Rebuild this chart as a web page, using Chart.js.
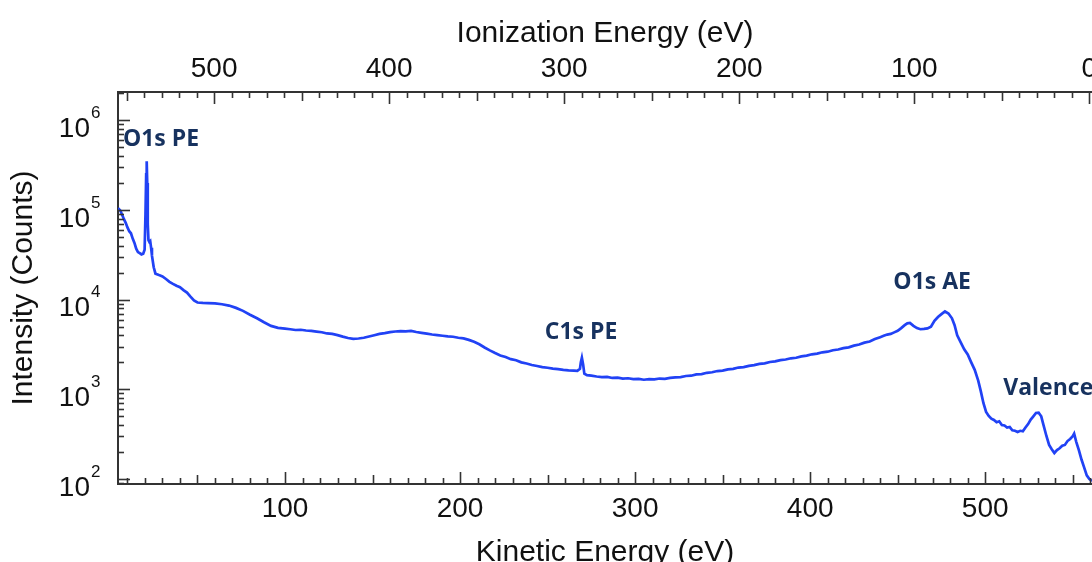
<!DOCTYPE html>
<html>
<head>
<meta charset="utf-8">
<script src="https://cdn.jsdelivr.net/npm/chart.js@4.4.1/dist/chart.umd.min.js"></script>
<style>
  html, body { margin: 0; padding: 0; background: #fff; }
  #wrap { width: 1092px; height: 562px; }
</style>
</head>
<body>
<div id="wrap"><canvas id="chart" width="1092" height="562"></canvas></div>
<script>
// photon energy: ionization energy = photonEnergy - kinetic energy
const photonEnergy = 559.5;

const kineticEnergy = [
  4.6, 6, 7, 8, 9, 10, 11, 12, 13, 14, 15, 16, 17, 18, 19, 19.8, 20.3, 20.7, 21.0, 21.3,
  21.6, 22, 22.5, 23, 23.5, 24, 25, 26, 28, 30, 32, 34, 36, 38, 40, 42, 44, 46, 48, 50,
  53, 56, 60, 64, 68, 72, 76, 80, 84, 88, 92, 96,
  100, 103, 106, 109, 112, 115, 118, 121, 124, 127, 130, 133, 136, 139, 142, 145, 148, 151, 154, 157,
  160, 163, 166, 169, 172, 175, 178, 181, 184, 187, 190, 193, 196, 199, 202, 205, 208, 211, 214, 217,
  220, 223, 226, 229, 232, 235, 238, 241, 244, 247, 250, 253, 256, 259, 262, 265, 267, 268.5, 269, 269.6,
  270.3, 271, 272.5, 275, 278, 281, 284, 287, 290, 293, 296, 299, 302, 305, 308, 311, 314, 317, 320, 323,
  326, 329, 332, 335, 338, 341, 344, 347, 350, 353, 356, 359, 362, 365, 368, 371, 374, 377, 380, 383,
  386, 389, 392, 395, 398, 401, 404, 407, 410, 413, 416, 419, 422, 425, 428, 431, 434, 437, 440, 442,
  444, 446, 448, 450, 452, 454, 455.5, 457, 459, 461, 463, 465, 467, 469, 471, 473, 475, 477, 479, 481,
  482.5, 484, 486, 488, 490, 492, 494, 496, 497.5, 499, 500.5, 502, 503.5, 505, 506.5, 508, 509.5, 511, 512.5, 514,
  515.5, 517, 518.5, 520, 521.5, 523, 524.5, 526, 527.5, 529, 530.5, 532, 533, 535, 536.5, 538, 539.5, 541, 542.5, 544,
  545.5, 547, 548.5, 550, 550.8, 552, 553.5, 555, 556.5, 558, 559.5, 561
];

const counts = [
  105000, 98000, 88000, 79000, 72000, 64000, 58000, 55000, 48000, 43000, 37000, 34000, 33000, 32000, 32500, 36000, 90000, 250000, 350000, 200000,
  70000, 46000, 44000, 45000, 38000, 31000, 23000, 19500, 18800, 18200, 17000, 15800, 15000, 14300, 13800, 12800, 12000, 10800, 9800, 9300,
  9200, 9150, 9100, 8900, 8600, 8100, 7500, 6800, 6200, 5600, 5100, 4850,
  4750, 4680, 4590, 4620, 4530, 4480, 4410, 4330, 4200, 4150, 4020, 3870, 3740, 3660, 3690, 3760, 3880, 4010, 4150, 4230,
  4340, 4420, 4470, 4430, 4480, 4360, 4270, 4190, 4090, 4030, 3960, 3900, 3860, 3760, 3700, 3560, 3390, 3180, 2930, 2720,
  2540, 2390, 2290, 2170, 2110, 2000, 1940, 1870, 1820, 1770, 1740, 1700, 1680, 1650, 1630, 1620, 1610, 1700, 2000, 2250,
  1900, 1500, 1440, 1420, 1390, 1370, 1380, 1340, 1350, 1320, 1330, 1300, 1310, 1280, 1300, 1290, 1320, 1310, 1340, 1360,
  1370, 1410, 1420, 1470, 1480, 1530, 1550, 1600, 1620, 1670, 1690, 1750, 1770, 1830, 1860, 1920, 1950, 2020, 2050, 2120,
  2150, 2220, 2250, 2330, 2380, 2460, 2500, 2590, 2630, 2730, 2780, 2880, 2940, 3070, 3160, 3320, 3420, 3640, 3820, 3950,
  4080, 4150, 4320, 4500, 4820, 5200, 5450, 5500, 5100, 4820, 4680, 4720, 4780, 5000, 5800, 6400, 6900, 7400, 7000, 6200,
  5200, 4000, 3350, 2800, 2450, 2000, 1650, 1250, 950, 700, 560, 505, 470, 455, 430, 440, 400, 395, 375, 380,
  350, 345, 335, 345, 340, 375, 410, 460, 500, 545, 550, 500, 420, 300, 240, 215, 195, 210, 220, 235,
  240, 265, 280, 300, 320, 260, 210, 165, 135, 110, 100, 95
];

const bottomTicks = [100, 200, 300, 400, 500];
const topTicks = [500, 400, 300, 200, 100, 0];
const yDecades = [2, 3, 4, 5, 6];

const peakLabels = ["O1s PE", "C1s PE", "O1s AE", "Valence"];
const peakLabelKE = [7.4, 269.1, 469.7, 510.3];
const peakLabelCounts = [610000, 4300, 15600, 1030];
const peakLabelAlign = ["left", "center", "center", "left"];

const axisColor = "#333333";
const textFont = '"Liberation Sans", Arial, sans-serif';

function noPad(scale) {
  scale.paddingLeft = 0;
  scale.paddingRight = 0;
  scale.paddingTop = 0;
  scale.paddingBottom = 0;
}

function tickLine(ctx, x1, y1, x2, y2) {
  ctx.beginPath();
  ctx.moveTo(x1, y1);
  ctx.lineTo(x2, y2);
  ctx.stroke();
}

// inward tick marks, y labels with exponents, peak names
const decorations = {
  id: "decorations",
  afterDraw(chart) {
    const { ctx, chartArea, scales } = chart;
    const xs = scales.x;
    const xt = scales.x2;
    const ys = scales.y;

    ctx.save();
    ctx.strokeStyle = axisColor;
    ctx.lineWidth = 1.6;

    // bottom
    for (let v = 10; v <= 560; v += 10) {
      const len = v % 100 === 0 ? 12 : v % 50 === 0 ? 9 : 6;
      const px = Math.round(xs.getPixelForValue(v)) + 0.5;
      tickLine(ctx, px, chartArea.bottom, px, chartArea.bottom - len);
    }
    // top (ionization energy)
    for (let v = 0; v <= 550; v += 10) {
      const len = v % 100 === 0 ? 12 : v % 50 === 0 ? 9 : 6;
      const px = Math.round(xt.getPixelForValue(v)) + 0.5;
      tickLine(ctx, px, chartArea.top, px, chartArea.top + len);
    }
    // left (log)
    for (let d = 1; d <= 6; d++) {
      for (let m = 1; m <= 9; m++) {
        const v = m * Math.pow(10, d);
        if (v < ys.min || v > ys.max) continue;
        const len = m === 1 ? 12 : 6;
        const py = Math.round(ys.getPixelForValue(v)) + 0.5;
        tickLine(ctx, chartArea.left, py, chartArea.left + len, py);
      }
    }

    // y labels 10^n
    ctx.fillStyle = "#111";
    yDecades.forEach((d) => {
      const py = ys.getPixelForValue(Math.pow(10, d));
      ctx.font = "28px " + textFont;
      ctx.textAlign = "right";
      ctx.textBaseline = "alphabetic";
      ctx.fillText("10", 90, py + 16.5);
      ctx.font = "17px " + textFont;
      ctx.textAlign = "left";
      ctx.fillText(String(d), 91, py - 2.5);
    });

    // peak names
    ctx.fillStyle = "#17325f";
    ctx.font = 'bold 23px "Open Sans", sans-serif';
    ctx.textBaseline = "middle";
    peakLabels.forEach((txt, i) => {
      ctx.textAlign = peakLabelAlign[i];
      ctx.fillText(
        txt,
        xs.getPixelForValue(peakLabelKE[i]),
        ys.getPixelForValue(peakLabelCounts[i])
      );
    });
    ctx.restore();
  },
};

const points = kineticEnergy.map((ke, i) => ({ x: ke, y: counts[i] }));

new Chart(document.getElementById("chart"), {
  type: "line",
  data: {
    datasets: [
      {
        data: points,
        borderColor: "#2142f5",
        borderWidth: 2.7,
        pointRadius: 0,
        tension: 0,
        xAxisID: "x",
        yAxisID: "y",
      },
    ],
  },
  options: {
    responsive: false,
    animation: false,
    devicePixelRatio: 1,
    layout: { padding: 0 },
    plugins: {
      legend: { display: false },
      tooltip: { enabled: false },
    },
    scales: {
      x: {
        type: "linear",
        position: "bottom",
        min: 4.6,
        max: 561,
        afterBuildTicks: (s) => {
          s.ticks = bottomTicks.map((v) => ({ value: v }));
        },
        afterFit: (s) => {
          s.height = 78;
          noPad(s);
        },
        grid: { display: false, drawTicks: false },
        border: { display: true, color: axisColor, width: 2 },
        ticks: {
          color: "#111",
          font: { family: textFont, size: 28 },
          padding: 8,
          maxRotation: 0,
        },
        title: {
          display: true,
          text: "Kinetic Energy (eV)",
          color: "#111",
          font: { family: textFont, size: 30, lineHeight: 1 },
          padding: { top: 0, bottom: -6 },
        },
      },
      x2: {
        type: "linear",
        position: "top",
        reverse: true,
        min: photonEnergy - 561,
        max: photonEnergy - 4.6,
        afterBuildTicks: (s) => {
          s.ticks = topTicks.map((v) => ({ value: v }));
        },
        afterFit: (s) => {
          s.height = 92;
          noPad(s);
        },
        grid: { display: false, drawTicks: false },
        border: { display: true, color: axisColor, width: 2 },
        ticks: {
          color: "#111",
          font: { family: textFont, size: 28 },
          padding: 6,
          maxRotation: 0,
        },
        title: {
          display: true,
          text: "Ionization Energy (eV)",
          color: "#111",
          font: { family: textFont, size: 30, lineHeight: 1 },
          padding: { top: 19, bottom: 0 },
        },
      },
      y: {
        type: "logarithmic",
        position: "left",
        min: 88,
        max: 2070000,
        afterFit: (s) => {
          s.width = 118;
          noPad(s);
        },
        grid: { display: false, drawTicks: false },
        border: { display: true, color: axisColor, width: 2 },
        ticks: { display: false },
        title: {
          display: true,
          text: "Intensity (Counts)",
          color: "#111",
          font: { family: textFont, size: 30, lineHeight: 1 },
          padding: { top: 9, bottom: 0 },
        },
      },
    },
  },
  plugins: [decorations],
});
</script>
</body>
</html>
